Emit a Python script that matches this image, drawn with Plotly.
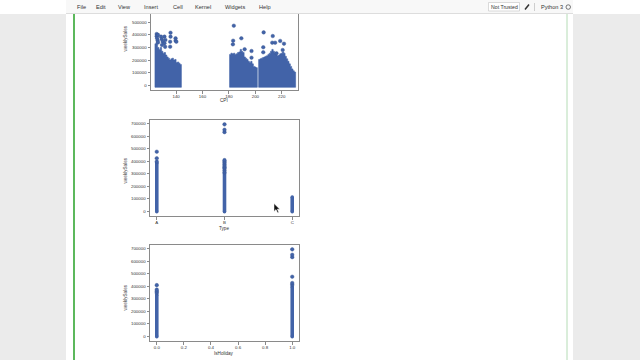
import plotly.graph_objects as go

W, H = 640, 360

# ---------------- data ----------------
# CPI plot: dense band envelope (column centre CPI, top of band in weeklySales)
cpi_left = [124.5, 125.5, 126.5, 127.5, 128.5, 129.5, 130.5, 131.5, 132.5, 133.5,
            134.5, 135.5, 136.5, 137.5, 138.5, 139.5, 140.5, 141.5, 142.5, 143.5]
top_left = [330000, 340000, 300000, 285000, 300000, 270000, 255000, 260000, 240000, 225000,
            215000, 200000, 210000, 215000, 200000, 205000, 180000, 185000, 175000, 165000]
cpi_mid = [181, 182, 183, 184, 185, 186, 187, 188, 189, 190, 191,
           192, 193, 194, 195, 196, 197, 198, 199, 200, 201]
top_mid = [245000, 255000, 250000, 255000, 245000, 250000, 260000, 265000, 285000, 270000, 260000,
           225000, 215000, 205000, 190000, 180000, 190000, 170000, 150000, 145000, 140000]
cpi_right = [203, 204, 205, 206, 207, 208, 209, 210, 211, 212, 213, 214, 215, 216,
             217, 218, 219, 220, 221, 222, 223, 224, 225, 226, 227, 228, 229, 230]
top_right = [205000, 210000, 215000, 220000, 225000, 230000, 235000, 245000, 255000, 270000,
             285000, 270000, 255000, 245000, 235000, 240000, 250000, 255000, 265000, 255000,
             230000, 210000, 190000, 170000, 150000, 130000, 115000, 105000]
band_bottom = -16000

# CPI plot: isolated points
cpi_pts = [125.3, 125.3, 125.6, 126.0, 126.3, 126.3, 128.6, 129.1, 129.9, 129.3,
           131.2, 131.9, 131.2, 131.7, 135.8, 135.8, 135.5, 135.5, 139.6, 139.6, 140.2,
           183.7, 183.2, 183.0, 189.4, 191.9, 197.1, 197.1,
           206.3, 206.0, 206.0, 213.2, 212.8, 215.0, 218.8, 221.7, 220.7, 216.0]
sales_pts = [407000, 390000, 373000, 355000, 340000, 400000, 386000, 365000, 346000, 320000,
             386000, 360000, 333000, 305000, 417000, 386000, 346000, 306000, 373000, 354000, 346000,
             473000, 354000, 325000, 373000, 286000, 272000, 219000,
             420000, 302000, 262000, 391000, 338000, 338000, 352000, 330000, 280000, 254000]

# Type plot
type_labels = ["A", "B", "C"]
type_min = [-4989, -4989, -4989]
type_dense_max = [385000, 300000, 112000]
type_pts_A = [395000, 422000, 474330]
type_pts_B = [310000, 325000, 340000, 350000, 360000, 372000, 385000, 395000, 407000,
              630999, 649770, 693099]

# IsHoliday plot
holiday_vals = [0.0, 1.0]
holiday_min = [-4989, -4989]
holiday_dense_max = [330000, 395000]
holiday_pts_0 = [345000, 357000, 371000, 406988]
holiday_pts_1 = [410000, 424000, 474330, 630999, 649770, 693099]

y_ticks_full = [0, 100000, 200000, 300000, 400000, 500000, 600000, 700000]
cpi_ticks = [140, 160, 180, 200, 220]
holiday_ticks = [0.0, 0.2, 0.4, 0.6, 0.8, 1.0]

# ---------------- styles ----------------
BLUE = "#4263a8"
EDGE = "#34538f"
SPINE = "#8a8a8a"
TXT = "#333333"
FONT = "Liberation Sans, Arial, sans-serif"
TICKFONT = dict(family=FONT, size=4.4, color=TXT)
MS = 3.6


def PX(x):
    return x / W


def PY(y):
    return 1 - y / H


fig = go.Figure()

# CPI dense bands drawn as a stepped filled outline
for xs, tops in [(cpi_left, top_left), (cpi_mid, top_mid), (cpi_right, top_right)]:
    px_, py_ = [xs[0] - 0.5], [band_bottom]
    for xv, tv in zip(xs, tops):
        px_ += [xv - 0.5, xv + 0.5]
        py_ += [tv, tv]
    px_ += [xs[-1] + 0.5, xs[0] - 0.5]
    py_ += [band_bottom, band_bottom]
    fig.add_trace(go.Scatter(x=px_, y=py_, mode="lines", fill="toself", fillcolor=BLUE,
                             line=dict(width=0.6, color=BLUE),
                             xaxis="x", yaxis="y", showlegend=False, hoverinfo="skip"))
fig.add_trace(go.Scatter(x=cpi_pts, y=sales_pts, mode="markers",
                         marker=dict(size=MS, color=BLUE, line=dict(width=0.4, color=EDGE)),
                         xaxis="x", yaxis="y", showlegend=False))

# Type strips
for i, lab in enumerate(type_labels):
    fig.add_trace(go.Scatter(x=[i, i], y=[type_min[i], type_dense_max[i]], mode="lines+markers",
                             line=dict(color=BLUE, width=MS),
                             marker=dict(size=MS, color=BLUE),
                             xaxis="x2", yaxis="y2", showlegend=False))
fig.add_trace(go.Scatter(x=[0] * len(type_pts_A), y=type_pts_A, mode="markers",
                         marker=dict(size=MS, color=BLUE, line=dict(width=0.4, color=EDGE)),
                         xaxis="x2", yaxis="y2", showlegend=False))
fig.add_trace(go.Scatter(x=[1] * len(type_pts_B), y=type_pts_B, mode="markers",
                         marker=dict(size=MS, color=BLUE, line=dict(width=0.4, color=EDGE)),
                         xaxis="x2", yaxis="y2", showlegend=False))

# IsHoliday strips
for i, hv in enumerate(holiday_vals):
    fig.add_trace(go.Scatter(x=[hv, hv], y=[holiday_min[i], holiday_dense_max[i]], mode="lines+markers",
                             line=dict(color=BLUE, width=MS),
                             marker=dict(size=MS, color=BLUE),
                             xaxis="x3", yaxis="y3", showlegend=False))
fig.add_trace(go.Scatter(x=[holiday_vals[0]] * len(holiday_pts_0), y=holiday_pts_0, mode="markers",
                         marker=dict(size=MS, color=BLUE, line=dict(width=0.4, color=EDGE)),
                         xaxis="x3", yaxis="y3", showlegend=False))
fig.add_trace(go.Scatter(x=[holiday_vals[1]] * len(holiday_pts_1), y=holiday_pts_1, mode="markers",
                         marker=dict(size=MS, color=BLUE, line=dict(width=0.4, color=EDGE)),
                         xaxis="x3", yaxis="y3", showlegend=False))


def xax(domain, rng, anchor, tickvals, ticktext=None, mirror=True):
    d = dict(domain=domain, range=rng, anchor=anchor, tickvals=tickvals,
             showline=True, linecolor=SPINE, linewidth=1, mirror=mirror,
             ticks="outside", ticklen=2.5, tickwidth=0.8, tickcolor=SPINE,
             ticklabelstandoff=-1,
             showgrid=False, zeroline=False, tickfont=TICKFONT)
    if ticktext is not None:
        d["ticktext"] = ticktext
    return d


def yax(domain, rng, anchor, tickvals):
    return dict(domain=domain, range=rng, anchor=anchor, tickvals=tickvals,
                ticktext=[str(v) for v in tickvals],
                showline=True, linecolor=SPINE, linewidth=1, mirror=True,
                ticks="outside", ticklen=2.5, tickwidth=0.8, tickcolor=SPINE,
                showgrid=False, zeroline=False, tickfont=TICKFONT)


XD1 = [PX(151), PX(298)]
XD = [PX(150), PX(299)]

shapes = []
# grey page sides
shapes.append(dict(type="rect", xref="paper", yref="paper", x0=0, x1=PX(66), y0=0, y1=PY(14),
                   fillcolor="#ebebeb", line=dict(width=0), layer="below"))
shapes.append(dict(type="rect", xref="paper", yref="paper", x0=PX(573), x1=1, y0=0, y1=PY(14),
                   fillcolor="#ebebeb", line=dict(width=0), layer="below"))
# cell borders
shapes.append(dict(type="line", xref="paper", yref="paper", x0=PX(74), x1=PX(74), y0=0, y1=PY(14),
                   line=dict(color="#5cb85c", width=2), layer="below"))
shapes.append(dict(type="line", xref="paper", yref="paper", x0=PX(567), x1=PX(567), y0=0, y1=PY(14),
                   line=dict(color="#b5dcb6", width=1), layer="below"))
# toolbar
shapes.append(dict(type="rect", xref="paper", yref="paper", x0=0, x1=1, y0=PY(13.5), y1=1,
                   fillcolor="#ffffff", line=dict(width=0), layer="above"))
shapes.append(dict(type="rect", xref="paper", yref="paper", x0=PX(66), x1=PX(573), y0=PY(13.5), y1=1,
                   fillcolor="#f8f8f8", line=dict(width=0), layer="above"))
shapes.append(dict(type="line", xref="paper", yref="paper", x0=PX(66), x1=PX(573), y0=PY(13.5), y1=PY(13.5),
                   line=dict(color="#dddddd", width=1), layer="above"))
# Not Trusted box
shapes.append(dict(type="rect", xref="paper", yref="paper", x0=PX(488.5), x1=PX(519.5), y0=PY(11), y1=PY(2.5),
                   fillcolor="#ffffff", line=dict(color="#cccccc", width=0.7), layer="above"))
# pencil
shapes.append(dict(type="line", xref="paper", yref="paper", x0=PX(525), x1=PX(529), y0=PY(9.5), y1=PY(4.5),
                   line=dict(color="#333333", width=1.5), layer="above"))
# separator
shapes.append(dict(type="line", xref="paper", yref="paper", x0=PX(534.5), x1=PX(534.5), y0=PY(11), y1=PY(3),
                   line=dict(color="#bbbbbb", width=0.7), layer="above"))
# kernel circle
shapes.append(dict(type="circle", xref="paper", yref="paper", x0=PX(566), x1=PX(570.5), y0=PY(9.3), y1=PY(4.8),
                   line=dict(color="#555555", width=0.8), layer="above"))

# mouse cursor
cur = [(274, 203.5), (274, 211.5), (276, 209.6), (277.6, 212.8), (278.8, 212.2), (277.3, 209.2), (279.8, 209.2)]
path = "M " + " L ".join(f"{PX(a):.5f} {PY(b):.5f}" for a, b in cur) + " Z"
shapes.append(dict(type="path", xref="paper", yref="paper", path=path,
                   fillcolor="#111111", line=dict(color="#ffffff", width=0.5), layer="above"))

ann = []
menu = [("File", 81.5), ("Edit", 100.5), ("View", 124), ("Insert", 151), ("Cell", 177.5),
        ("Kernel", 203), ("Widgets", 235), ("Help", 265)]
for t, x in menu:
    ann.append(dict(text=t, x=PX(x), y=PY(6.8), xref="paper", yref="paper", showarrow=False,
                    xanchor="center", yanchor="middle", font=dict(family=FONT, size=5.6, color=TXT)))
ann.append(dict(text="Not Trusted", x=PX(504), y=PY(6.8), xref="paper", yref="paper", showarrow=False,
                xanchor="center", yanchor="middle", font=dict(family=FONT, size=5.2, color=TXT)))
ann.append(dict(text="Python 3", x=PX(538.5), y=PY(6.8), xref="paper", yref="paper", showarrow=False,
                xanchor="left", yanchor="middle", font=dict(family=FONT, size=5.6, color=TXT)))

LBL = dict(family=FONT, size=4.6, color=TXT)
for yc in [39, 171, 298]:
    ann.append(dict(text="weeklySales", x=PX(124.5), y=PY(yc), xref="paper", yref="paper", showarrow=False,
                    textangle=-90, xanchor="center", yanchor="middle", font=LBL))
for t, yc in [("CPI", 100.5), ("Type", 228.5), ("IsHoliday", 353.5)]:
    ann.append(dict(text=t, x=PX(224), y=PY(yc), xref="paper", yref="paper", showarrow=False,
                    xanchor="center", yanchor="middle", font=LBL))

fig.update_layout(
    width=W, height=H, margin=dict(l=0, r=0, t=0, b=0),
    paper_bgcolor="#ffffff", plot_bgcolor="rgba(0,0,0,0)",
    showlegend=False,
    xaxis=xax(XD1, [121.0, 232.3], "y", cpi_ticks, mirror=False),
    yaxis=yax([PY(90.3), PY(14)], [-39893, 565900], "x", y_ticks_full[:6]),
    xaxis2=xax(XD, [-0.1, 2.1], "y2", [0, 1, 2], type_labels),
    yaxis2=yax([PY(216), PY(120)], [-39893, 728003], "x2", y_ticks_full),
    xaxis3=xax(XD, [-0.05, 1.05], "y3", holiday_ticks, [f"{v:.1f}" for v in holiday_ticks]),
    yaxis3=yax([PY(341), PY(245)], [-39893, 728003], "x3", y_ticks_full),
    shapes=shapes, annotations=ann,
)

fig.write_html("out.html")
